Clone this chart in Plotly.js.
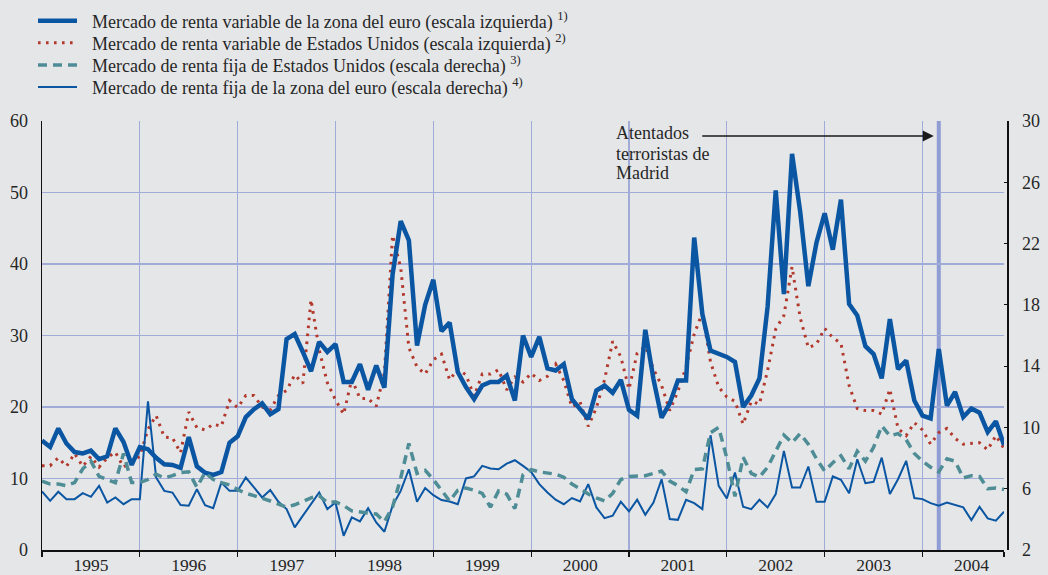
<!DOCTYPE html>
<html>
<head>
<meta charset="utf-8">
<script src="https://cdn.plot.ly/plotly-3.0.1.min.js"></script>
<style>html,body{margin:0;padding:0;background:#e5e6e8;}#chart{width:1048px;height:575px;}</style>
</head>
<body>
<div id="chart"></div>
<script>
// Monthly observations, January 1995 (index 0) to November 2004 (index 118)
const years = ["1995","1996","1997","1998","1999","2000","2001","2002","2003","2004"];

// Euro area equity market (left scale)
const equityEuro = [
 15.3,14.4,17.0,14.9,13.7,13.5,13.9,12.7,13.1,17.0,15.1,11.9,
 14.4,14.1,12.9,12.0,11.9,11.5,15.8,11.7,10.8,10.5,10.9,15.0,
 15.9,18.6,19.7,20.5,19.0,19.7,29.5,30.2,27.7,25.0,29.1,27.7,
 28.8,23.5,23.5,26.0,22.4,25.8,22.7,38.5,46.0,43.3,28.6,34.3,
 37.8,30.6,31.8,24.9,22.8,21.1,23.0,23.5,23.5,24.4,20.9,30.0,
 27.0,29.8,25.4,25.1,26.0,21.1,19.7,18.3,22.3,23.0,22.0,23.8,
 19.6,18.8,30.8,23.9,18.5,20.5,23.7,23.7,43.7,33.0,27.9,27.4,
 27.0,26.3,20.0,21.6,24.0,34.0,50.3,35.8,55.4,47.3,36.9,43.0,
 47.1,42.0,49.0,34.4,32.8,28.5,27.4,24.0,32.3,25.3,26.5,20.9,
 18.8,18.4,28.1,20.2,22.1,18.6,19.8,19.2,16.5,18.0,14.7];

// US equity market (left scale)
const equityUS = [
 11.8,11.8,12.9,11.7,13.5,11.7,13.1,11.6,12.9,13.7,11.6,12.4,
 13.1,16.9,18.8,15.8,15.7,13.6,19.3,17.1,16.8,17.6,17.3,20.9,
 19.9,21.6,21.6,20.0,19.6,21.6,22.3,24.5,23.3,35.0,28.0,23.4,
 21.0,19.0,23.9,21.2,21.2,20.1,24.8,44.0,39.5,28.3,25.6,24.6,
 26.6,27.4,23.8,25.3,24.5,21.5,24.6,24.6,25.2,22.4,24.2,23.5,
 24.7,23.7,24.3,26.0,23.7,20.0,20.7,17.3,19.9,23.8,29.2,27.0,
 22.5,27.5,28.5,25.3,23.0,19.5,22.2,25.6,30.2,33.2,26.3,22.8,
 21.4,20.8,17.6,20.8,20.4,25.1,30.9,32.8,39.6,32.5,28.3,28.8,
 31.0,29.7,28.9,23.0,19.8,19.5,19.5,19.0,22.5,17.0,16.0,17.8,
 16.8,14.8,16.4,17.0,15.6,14.8,14.9,15.0,14.0,16.0,14.2];

// US bond market (right scale)
const bondsUS = [
 6.5,6.3,6.3,6.2,6.4,7.3,7.8,6.8,6.6,6.4,8.3,6.4,
 6.4,6.6,6.95,6.7,6.85,7.05,7.1,6.1,7.05,6.6,6.4,6.25,
 5.95,5.7,5.55,5.4,5.2,5.0,4.8,4.95,5.2,5.4,5.55,5.1,
 5.15,4.9,4.55,4.5,4.45,4.35,3.85,4.8,6.7,8.95,7.0,7.2,
 6.6,5.9,5.2,5.9,6.05,5.9,5.7,4.8,5.85,5.65,4.7,6.9,
 7.25,7.1,7.0,6.95,6.75,6.3,6.0,5.65,5.4,5.2,5.7,6.6,
 6.8,6.85,6.85,7.0,7.15,6.5,6.2,5.8,7.25,7.3,9.65,10.0,
 8.0,5.5,8.05,7.0,6.75,7.4,8.4,9.5,9.0,9.6,8.9,7.95,
 7.15,7.7,8.15,7.3,8.45,7.8,8.7,10.1,9.45,9.6,9.2,8.3,
 7.8,7.4,7.1,7.95,7.8,6.7,6.85,6.8,6.0,6.05,5.95];

// Euro area bond market (right scale)
const bondsEuro = [
 5.82,5.21,5.80,5.32,5.32,5.71,5.47,6.19,5.10,5.43,4.99,5.32,
 5.32,11.7,6.73,5.86,5.75,4.93,4.89,5.97,4.93,4.73,6.41,5.86,
 5.86,6.73,6.08,5.43,5.91,5.15,4.67,3.48,4.24,4.99,5.75,4.67,
 5.10,2.93,4.13,3.87,4.73,3.80,3.19,4.89,5.86,7.27,5.15,6.04,
 5.58,5.26,5.17,4.99,6.67,6.80,7.49,7.32,7.27,7.64,7.86,7.49,
 7.10,6.30,5.75,5.28,4.99,5.39,5.17,6.30,4.78,4.08,4.24,5.15,
 4.52,5.28,4.30,5.10,6.62,4.02,3.97,5.28,5.06,4.67,9.49,6.19,
 5.36,7.06,4.82,4.67,5.28,4.78,5.65,8.47,6.08,6.08,7.45,5.15,
 5.15,6.80,6.58,5.71,7.92,6.36,6.45,8.03,5.65,6.62,7.82,5.39,
 5.32,5.06,4.89,5.10,4.95,4.78,3.95,4.82,4.06,3.91,4.50];

const seriesNames = [
 "Mercado de renta variable de la zona del euro (escala izquierda) <sup>1)</sup>",
 "Mercado de renta variable de Estados Unidos (escala izquierda) <sup>2)</sup>",
 "Mercado de renta fija de Estados Unidos (escala derecha) <sup>3)</sup>",
 "Mercado de renta fija de la zona del euro (escala derecha) <sup>4)</sup>"
];

// Event: Madrid terrorist attacks, March 2004 (month index)
const madridMonth = 110;
const madridLabelLines = ["Atentados", "terroristas de", "Madrid"];

const months = equityEuro.map((_, i) => i);
const lastMonth = months[months.length - 1];
const yearStarts = years.map((_, k) => 12 * k);

const serif = "Liberation Serif, Times New Roman, serif";
const txt = "#262626";
const grid = "#a0abd8";
const blue = "#0a56a2";

const styles = [
 {color: blue, width: 4.5},
 {color: "#b2382c", width: 3, dash: "2.6px,5.4px"},
 {color: "#4f8d96", width: 3.5, dash: "9px,6px"},
 {color: blue, width: 2}
];

const traces = [
 {x: months, y: bondsEuro, yaxis: "y2", name: seriesNames[3], mode: "lines", line: styles[3]},
 {x: months, y: bondsUS, yaxis: "y2", name: seriesNames[2], mode: "lines", line: styles[2]},
 {x: months, y: equityUS, name: seriesNames[1], mode: "lines", line: styles[1]},
 {x: months, y: equityEuro, name: seriesNames[0], mode: "lines", line: styles[0]}
];

// plot-area geometry in pixels (for the key placed above the plot)
const W = 1048, H = 575, mL = 42, mR = 41, mT = 121, mB = 25;
const pw = W - mL - mR, ph = H - mT - mB;
const px = p => (p - mL) / pw;
const py = p => (H - mB - p) / ph;
const keyRows = [20.7, 42.7, 65, 87];

const shapes = [
 {type: "line", xref: "x", yref: "paper", x0: madridMonth, x1: madridMonth, y0: 0, y1: 1,
  line: {color: "#8f9dd4", width: 4}, layer: "below"}
];
const annotations = [];
seriesNames.forEach((name, k) => {
  shapes.push({type: "line", xref: "paper", yref: "paper", x0: px(38), x1: px(77),
    y0: py(keyRows[k]), y1: py(keyRows[k]), line: styles[k]});
  annotations.push({xref: "paper", yref: "paper", x: px(90), y: py(keyRows[k]), xanchor: "left",
    yanchor: "middle", text: name, showarrow: false, font: {family: serif, size: 18, color: txt}});
});
const labelRows = [133, 153.5, 173];
madridLabelLines.forEach((t, k) => {
  annotations.push({xref: "paper", yref: "paper", x: px(614), y: py(labelRows[k]), xanchor: "left",
    yanchor: "middle", text: t, showarrow: false, font: {family: serif, size: 18, color: txt}});
});
annotations.push({xref: "x", yref: "y", x: madridMonth, y: 57.9, axref: "x", ayref: "y", ax: 80.8, ay: 57.9,
  text: "", showarrow: true, arrowhead: 2, arrowsize: 1.7, arrowwidth: 1.3, arrowcolor: "#1a1a1a", standoff: 5});

const layout = {
 width: W, height: H,
 paper_bgcolor: "#e5e6e8", plot_bgcolor: "#e5e6e8",
 margin: {l: mL, r: mR, t: mT, b: mB, autoexpand: false},
 font: {family: serif, size: 18, color: txt},
 showlegend: false,
 xaxis: {range: [0, lastMonth], domain: [0, 0.9969], tickmode: "array",
  tickvals: yearStarts.concat([lastMonth]), ticktext: years.concat([""]),
  ticklabelshift: 49, ticklabelstandoff: -7, ticks: "outside", ticklen: 5, tickcolor: "#111", tickwidth: 1.2,
  showgrid: true, gridcolor: grid, gridwidth: 1.2, zeroline: false,
  showline: true, linecolor: "#111", linewidth: 1.5, tickfont: {family: serif, size: 17.5, color: txt}},
 yaxis: {range: [0, 60], dtick: 10, tick0: 0, showgrid: true, gridcolor: grid, gridwidth: 1.2,
  zeroline: false, showline: true, linecolor: "#111", linewidth: 1.5, ticks: "",
  ticklabelstandoff: 9, tickfont: {family: serif, size: 18, color: txt}},
 yaxis2: {range: [2, 30], dtick: 4, tick0: 2, overlaying: "y", side: "right", anchor: "free", position: 1,
  showgrid: false, zeroline: false, showline: true, linecolor: "#111", linewidth: 1.5,
  ticks: "inside", ticklen: 3, tickcolor: "#111", ticklabelstandoff: 10,
  tickfont: {family: serif, size: 18, color: txt}},
 shapes: shapes,
 annotations: annotations
};

Plotly.newPlot("chart", traces, layout, {displayModeBar: false, staticPlot: true});
</script>
</body>
</html>
